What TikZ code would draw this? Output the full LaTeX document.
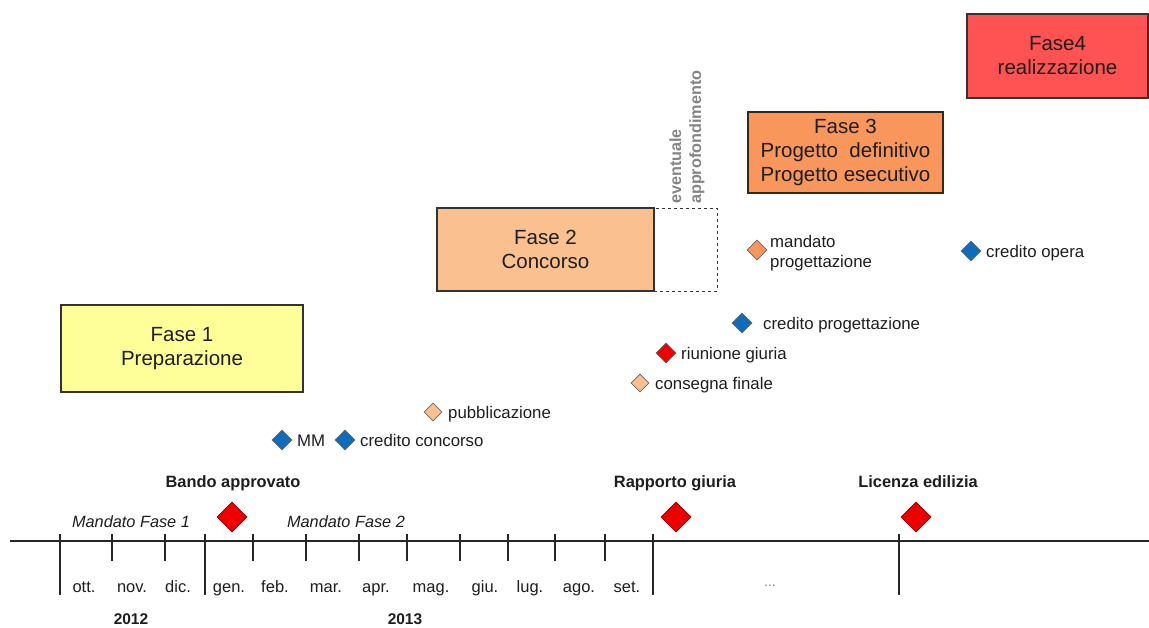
\documentclass[tikz,border=0pt]{standalone}
\usepackage{fontspec}
\setmainfont{Liberation Sans}
\usetikzlibrary{shapes.geometric}
\definecolor{fyellow}{HTML}{FFFF99}
\definecolor{fpeach}{HTML}{FAC090}
\definecolor{forange}{HTML}{F8965C}
\definecolor{fred}{HTML}{FF5252}
\definecolor{mblue}{HTML}{0F6CBD}
\definecolor{mred}{HTML}{EE0000}
\definecolor{txt}{HTML}{1E1E1E}
\definecolor{gtxt}{HTML}{858585}
\tikzset{
  phase/.style={draw=black!80, line width=1.1pt, align=center, inner sep=0pt,
    font=\fontsize{20.5}{24}\selectfont, text=txt},
  ms/.style={diamond, draw=black!60, line width=0.6pt, inner sep=0pt, minimum width=20pt, minimum height=20pt},
  bigms/.style={diamond, draw=red!60!black, line width=0.6pt, fill=mred, inner sep=0pt, minimum width=30pt, minimum height=30pt},
  lbl/.style={anchor=base west, inner sep=0pt, font=\fontsize{16.8}{20}\selectfont, text=txt, align=left},
  bold/.style={anchor=base, inner sep=0pt, font=\fontsize{16.4}{20}\selectfont\bfseries, text=txt},
  month/.style={anchor=base, inner sep=0pt, font=\fontsize{16.5}{20}\selectfont, text=txt},
  mand/.style={anchor=base, inner sep=0pt, font=\fontsize{16.3}{20}\selectfont\itshape, text=txt},
  year/.style={inner sep=0pt, font=\fontsize{15.5}{20}\selectfont\bfseries, text=txt},
}
\begin{document}
\begin{tikzpicture}[x=1pt,y=-1pt]
\useasboundingbox (0,0) rectangle (1149,627);
\fill[white] (0,0) rectangle (1149,627);

% phases
\node[phase, fill=fyellow, minimum width=242pt, minimum height=87pt] (f1) at (182,348.5) {Fase 1\\Preparazione};
\node[phase, fill=fpeach, minimum width=217pt, minimum height=83pt] (f2) at (545.5,249.5) {Fase 2\\Concorso};
\node[draw=black!80, dashed, line width=0.8pt, inner sep=0pt, minimum width=63pt, minimum height=83pt] (f2x) at (685.5,249.5) {};
\node[phase, fill=forange, draw=black!70!brown, minimum width=195pt, minimum height=81pt] (f3) at (845.5,152.5) {Fase 3\\Progetto\ \ definitivo\\Progetto esecutivo};
\node[phase, fill=fred, minimum width=181pt, minimum height=84pt] (f4) at (1057.5,56) {Fase4\\realizzazione};

\node[rotate=90, anchor=west, align=left, inner sep=0pt, text=gtxt,
  font=\fontsize{16.2}{20}\selectfont\bfseries] (ev) at (687,204) {eventuale\\approfondimento};

% small milestones
\node[ms, fill=mblue] (d1) at (282,440) {};
\node[lbl] (l1) at (297,446) {MM};
\node[ms, fill=mblue] (d2) at (345,440) {};
\node[lbl] (l2) at (360,446) {credito concorso};
\node[ms, fill=fpeach, minimum width=18pt, minimum height=18pt] (d3) at (433,412) {};
\node[lbl] (l3) at (448,418) {pubblicazione};
\node[ms, fill=fpeach, minimum width=18pt, minimum height=18pt] (d4) at (640,383) {};
\node[lbl] (l4) at (655,389) {consegna finale};
\node[ms, fill=mred] (d5) at (666,353) {};
\node[lbl] (l5) at (681,359) {riunione giuria};
\node[ms, fill=mblue] (d6) at (742,323) {};
\node[lbl] (l6) at (763,329) {credito progettazione};
\node[ms, fill=mblue] (d8) at (971,251) {};
\node[lbl] (l8) at (986,257) {credito opera};
\node[ms, fill=forange] (d7) at (757,250) {};
\node[lbl] (l7) at (770,267) {mandato\\progettazione};

% timeline
\coordinate (axL) at (10,541);
\coordinate (axR) at (1149,541);
\draw[line width=1.3pt, black!85] (axL) -- (axR);
\foreach \x in {60,205,653,899} \draw[line width=1.1pt, black!85] (\x,534) -- (\x,595);
\foreach \x in {112,165,253,306,359,407,460,508,555,605} \draw[line width=1.1pt, black!85] (\x,534) -- (\x,561);

\foreach \m/\x in {ott./84,nov./132,dic./178,gen./229,feb./275,mar./326,apr./376,mag./431,giu./485,lug./530,ago./579,set./627}
  \node[month] at (\x,592) {\m};
\node[month, text=black!50, font=\fontsize{14}{16}\selectfont] (dots) at (770,586) {...};

\node[year] (y1) at (131,619) {2012};
\node[year] (y2) at (405,619) {2013};

\node[mand] (mf1) at (131,527) {Mandato Fase 1};
\node[mand] (mf2) at (346,527) {Mandato Fase 2};

% main milestones
\node[bold] (b1) at (233,487) {Bando approvato};
\node[bigms] (m1) at (232,517) {};
\node[bold] (b2) at (675,487) {Rapporto giuria};
\node[bigms] (m2) at (676,517) {};
\node[bold] (b3) at (918,487) {Licenza edilizia};
\node[bigms] (m3) at (916,517) {};
\end{tikzpicture}
\end{document}
